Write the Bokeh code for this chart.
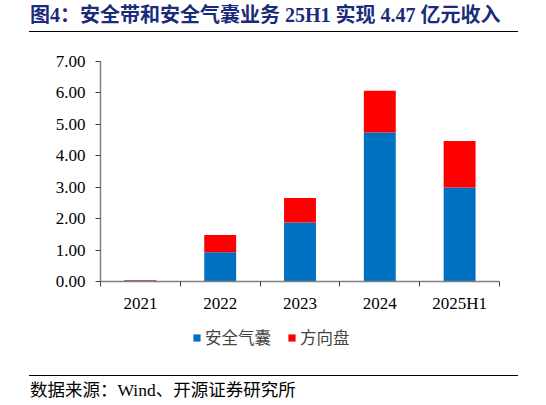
from bokeh.embed import file_html
from bokeh.resources import INLINE
from bokeh.layouts import column
from bokeh.plotting import figure
from bokeh.models import (FixedTicker, Legend, LegendItem, Div,
                          PrintfTickFormatter, Range1d)

years = ["2021", "2022", "2023", "2024", "2025H1"]
airbag = [0.03, 0.93, 1.88, 4.74, 2.99]
wheel = [0.02, 0.55, 0.78, 1.33, 1.48]
y_ticks = [0, 1, 2, 3, 4, 5, 6, 7]

centers = [i + 0.5 for i in range(len(years))]
bounds = list(range(len(years) + 1))
colors = ["#0070C0", "#FF0000"]
names = ["安全气囊", "方向盘"]

SERIF = "'Liberation Serif', 'Noto Sans CJK SC'"
CJK = "'Noto Sans CJK SC'"

title = Div(width=546, height=32, margin=0, text=(
    "<div style=\"margin-left:29px;width:489px;\">"
    "<div style=\"height:31px;line-height:31px;padding-left:1px;white-space:nowrap;"
    "font-family:'Liberation Serif','Noto Sans CJK SC';font-size:20px;"
    "font-weight:bold;color:#1A2B7C\">"
    "图4：安全带和安全气囊业务 25H1 实现 4.47 亿元收入</div>"
    "<div style=\"height:1px;background:#000\"></div></div>"))

p = figure(width=546, height=288, output_backend="svg", toolbar_location=None,
           x_range=Range1d(0, len(years)), y_range=Range1d(0, 7),
           min_border_left=100, min_border_right=47, min_border_top=29,
           min_border_bottom=39, outline_line_color=None)
p.grid.visible = False

src = dict(x=centers, airbag=airbag, wheel=wheel)
r = p.vbar_stack(["airbag", "wheel"], x="x", width=0.4, source=src,
                 color=colors, line_color=None)

p.xaxis.ticker = FixedTicker(ticks=centers, minor_ticks=bounds)
p.xaxis.major_label_overrides = {c: y for c, y in zip(centers, years)}
p.xaxis.major_tick_out = 0
p.xaxis.major_tick_in = 0
p.xaxis.minor_tick_out = 5
p.xaxis.minor_tick_in = 0
p.yaxis.ticker = FixedTicker(ticks=y_ticks)
p.yaxis.formatter = PrintfTickFormatter(format="%.2f")
p.yaxis.major_tick_out = 5
p.yaxis.major_tick_in = 0
p.yaxis.minor_tick_out = 0
p.yaxis.minor_tick_in = 0
for ax in (p.xaxis, p.yaxis):
    ax.axis_line_color = "#808080"
    ax.axis_line_width = 1.5
    ax.major_tick_line_color = "#404040"
    ax.minor_tick_line_color = "#404040"
    ax.major_label_text_font = SERIF
    ax.major_label_text_font_size = "17px"
    ax.major_label_text_color = "#000000"
p.xaxis.major_label_standoff = 7
p.yaxis.major_label_standoff = 10

# legend lives in its own strip below the chart; its bars are hidden
lg = figure(width=546, height=38, output_backend="svg", toolbar_location=None,
            x_axis_type=None, y_axis_type=None, x_range=Range1d(0, len(years)),
            y_range=Range1d(0, 7), min_border=0, outline_line_color=None)
lr = lg.vbar_stack(["airbag", "wheel"], x="x", width=0.4, source=src,
                   color=colors, line_color=None)
for g in lr:
    g.visible = False
legend = Legend(items=[LegendItem(label=n, renderers=[g]) for n, g in zip(names, lr)],
                orientation="horizontal", location=(92, 9), click_policy="none",
                glyph_width=9, glyph_height=9, label_standoff=4, spacing=16,
                label_text_font=CJK, label_text_font_size="16.5px",
                border_line_color=None, background_fill_alpha=0,
                padding=0, margin=0)
lg.add_layout(legend, "center")

source_note = Div(width=546, height=47, margin=0, text=(
    "<div style=\"margin-left:29px;width:489px;\">"
    "<div style=\"height:17px\"></div>"
    "<div style=\"height:1px;background:#000\"></div>"
    "<div style=\"height:28px;line-height:28px;padding-left:1px;white-space:nowrap;"
    "font-family:'Liberation Serif','Noto Sans CJK SC';font-size:17.5px;color:#000\">"
    "数据来源：Wind、开源证券研究所</div></div>"))

layout = column(title, p, lg, source_note, spacing=0)

open("out.html", "w").write(file_html(layout, INLINE))
